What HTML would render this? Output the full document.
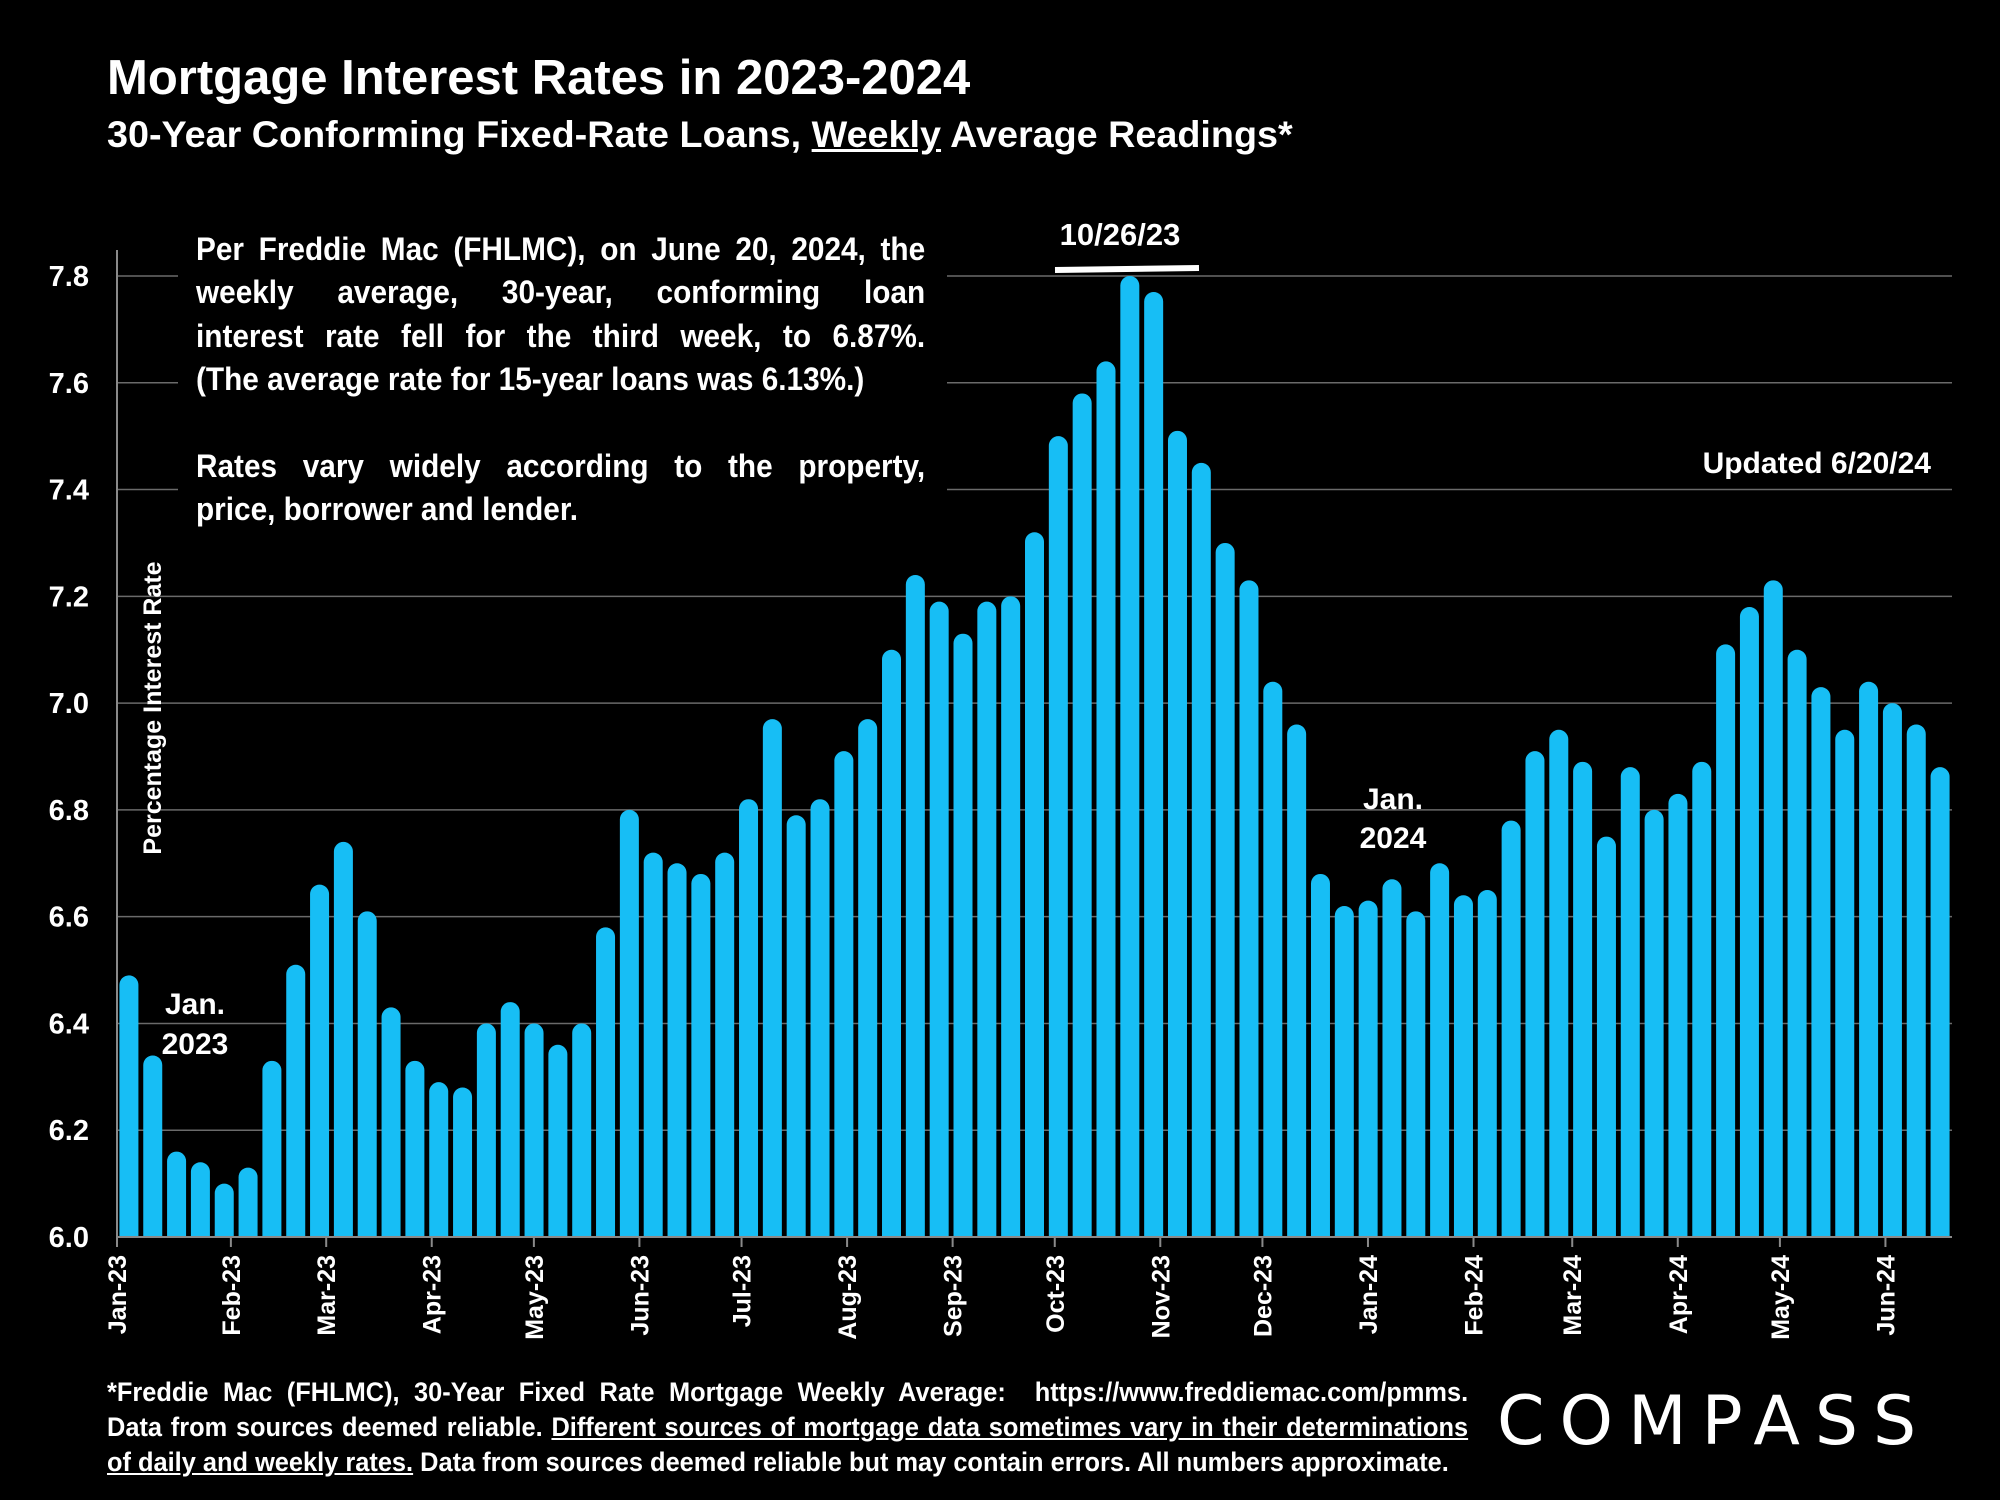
<!DOCTYPE html>
<html><head><meta charset="utf-8">
<style>
html,body{margin:0;padding:0;background:#000;}
#wrap{position:relative;width:2000px;height:1500px;background:#000;overflow:hidden;color:#fff;font-family:"Liberation Sans",sans-serif;font-weight:bold;}
.abs{position:absolute;}
#title{left:107px;top:50px;font-size:49px;white-space:nowrap;}
#subtitle{left:107px;top:114px;font-size:37px;white-space:nowrap;transform:scaleX(1.02);transform-origin:left top;}
#note{left:178px;top:228px;width:751px;font-size:32px;line-height:43.4px;background:#000;padding:0 0 8px 18px;}
#noteInner{width:784px;transform:scaleX(0.93);transform-origin:left top;}
.j{text-align:justify;text-align-last:justify;white-space:nowrap;}
.l{text-align:left;white-space:nowrap;}
#foot{left:107px;top:1375px;font-size:27px;line-height:35px;}
#footInner{width:1448px;transform:scaleX(0.94);transform-origin:left top;}
#logo{left:1497px;top:1382px;font-family:"DejaVu Sans","Liberation Sans",sans-serif;font-weight:normal;font-size:68px;letter-spacing:15px;}
</style></head>
<body>
<div id="wrap">
<svg id="chart" class="abs" style="left:0;top:0" width="2000" height="1500"></svg>
<div id="title" class="abs">Mortgage Interest Rates in 2023-2024</div>
<div id="subtitle" class="abs">30-Year Conforming Fixed-Rate Loans, <u>Weekly</u> Average Readings*</div>
<div id="note" class="abs"><div id="noteInner">
<div class="j">Per Freddie Mac (FHLMC), on June 20, 2024, the</div>
<div class="j">weekly average, 30-year, conforming loan</div>
<div class="j">interest rate fell for the third week, to 6.87%.</div>
<div class="l">(The average rate for 15-year loans was 6.13%.)</div>
<div class="l">&nbsp;</div>
<div class="j">Rates vary widely according to the property,</div>
<div class="l">price, borrower and lender.</div>
</div></div>
<div id="foot" class="abs"><div id="footInner">
<div class="j">*Freddie Mac (FHLMC), 30-Year Fixed Rate Mortgage Weekly Average:&nbsp; https://www.freddiemac.com/pmms.</div>
<div class="j">Data from sources deemed reliable. <u>Different sources of mortgage data sometimes vary in their determinations</u></div>
<div class="l"><u>of daily and weekly rates.</u> Data from sources deemed reliable but may contain errors. All numbers approximate.</div>
</div></div>
<div id="logo" class="abs">COMPASS</div>
</div>
<script>
const values = [6.49,6.34,6.16,6.14,6.10,6.13,6.33,6.51,6.66,6.74,6.61,6.43,6.33,6.29,6.28,6.40,6.44,6.40,6.36,6.40,6.58,6.80,6.72,6.70,6.68,6.72,6.82,6.97,6.79,6.82,6.91,6.97,7.10,7.24,7.19,7.13,7.19,7.20,7.32,7.50,7.58,7.64,7.80,7.77,7.51,7.45,7.30,7.23,7.04,6.96,6.68,6.62,6.63,6.67,6.61,6.70,6.64,6.65,6.78,6.91,6.95,6.89,6.75,6.88,6.80,6.83,6.89,7.11,7.18,7.23,7.10,7.03,6.95,7.04,7.00,6.96,6.88];
const yTicks = [6.0,6.2,6.4,6.6,6.8,7.0,7.2,7.4,7.6,7.8];
const monthLabels = ["Jan-23","Feb-23","Mar-23","Apr-23","May-23","Jun-23","Jul-23","Aug-23","Sep-23","Oct-23","Nov-23","Dec-23","Jan-24","Feb-24","Mar-24","Apr-24","May-24","Jun-24"];
const monthDays = [0,31,59,90,120,151,181,212,243,273,304,334,365,396,425,456,486,517];

const NS="http://www.w3.org/2000/svg";
const svg=document.getElementById('chart');
const L=117,R=1952,Y0=1237,Y1=276,YMIN=6.0,YMAX=7.8;
const pitch=(R-L)/values.length;
const bw=19;
function y(v){return Y0-(v-YMIN)/(YMAX-YMIN)*(Y0-Y1);}
function xc(i){return L+(i+0.5)*pitch;}
function xd(d){return L+(d/7+0.35)*pitch;}
function mk(tag,attrs){const e=document.createElementNS(NS,tag);for(const k in attrs)e.setAttribute(k,attrs[k]);svg.appendChild(e);return e;}

yTicks.forEach(t=>{
  if(t>YMIN){
    const g=mk('line',{x1:L,x2:R,y1:y(t),y2:y(t),stroke:'#6a6a6a','stroke-width':1.5});
    
    
  }
  const tx=mk('text',{x:89,y:y(t)+10,'text-anchor':'end',fill:'#fff','font-size':29,'font-weight':'bold','font-family':'"Liberation Sans",sans-serif'});
  tx.textContent=t.toFixed(1);
  
  
});

values.forEach((v,i)=>{
  const x=xc(i)-bw/2, top=y(v), r=bw/2;
  const p=mk('path',{d:`M${x},${Y0} L${x},${top+r} A${r},${r} 0 0 1 ${x+bw},${top+r} L${x+bw},${Y0} Z`,fill:'#17bef5'});
  
  
});

const ax=mk('line',{x1:L,x2:R,y1:Y0,y2:Y0,stroke:'#8a8a8a','stroke-width':2});


const ay=mk('line',{x1:L,x2:L,y1:250,y2:Y0+10,stroke:'#8a8a8a','stroke-width':2});



monthLabels.forEach((m,i)=>{
  const x=i===0?L:xd(monthDays[i]);
  const tk=mk('line',{x1:x,x2:x,y1:Y0,y2:Y0+10,stroke:'#8a8a8a','stroke-width':2});
  
  
  const t=mk('text',{x:0,y:0,'text-anchor':'end',fill:'#fff','font-size':25,'font-weight':'bold','font-family':'"Liberation Sans",sans-serif',transform:`translate(${x+9},${Y0+18}) rotate(-90)`});
  t.textContent=m;
  
  
});

function label(txt,x,yy,name,size,anchor){
  const t=mk('text',{x:x,y:yy,'text-anchor':anchor||'middle',fill:'#fff','font-size':size||29,'font-weight':'bold','font-family':'"Liberation Sans",sans-serif'});
  t.textContent=txt;
  
  
  return t;
}
const yl=mk('text',{x:0,y:0,'text-anchor':'middle',fill:'#fff','font-size':25,'font-weight':'bold','font-family':'"Liberation Sans",sans-serif',transform:'translate(161,708) rotate(-90)'});
yl.textContent='Percentage Interest  Rate';



label('10/26/23',1120,245,'peak-date-label',31);
const pl=mk('line',{x1:1055,x2:1199,y1:270,y2:268,stroke:'#fff','stroke-width':6});


label('Updated 6/20/24',1931,473,'updated-label',30,'end');
label('Jan.',195,1014,'jan-2023-label',30);
label('2023',195,1054,'jan-2023-label-year',30);
label('Jan.',1393,809,'jan-2024-label',30);
label('2024',1393,848,'jan-2024-label-year',30);
</script>
</body></html>
